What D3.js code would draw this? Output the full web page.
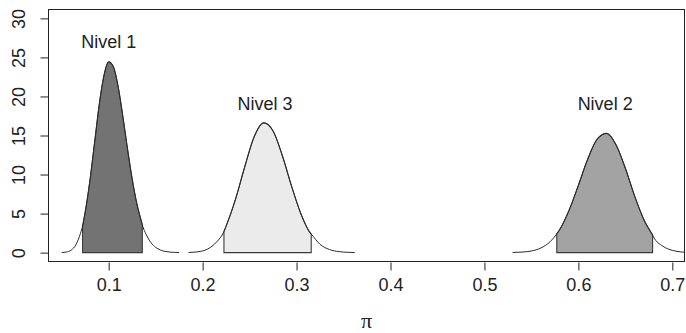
<!DOCTYPE html>
<html>
<head>
<meta charset="utf-8">
<script src="https://cdn.jsdelivr.net/npm/d3@7"></script>
<style>
  body { margin: 0; background: #fff; }
  text { font-family: "Liberation Sans", Arial, sans-serif; fill: #222; }
</style>
</head>
<body>
<div class="density-container"></div>
<script>
// Values.
const xTicks = [0.1, 0.2, 0.3, 0.4, 0.5, 0.6, 0.7];
const yTicks = [0, 5, 10, 15, 20, 25, 30];

// Nivel 1 density
const nivel1X = [0.05, 0.055, 0.06, 0.065, 0.07, 0.0722, 0.075, 0.08, 0.085, 0.09, 0.095, 0.1, 0.105,
  0.11, 0.115, 0.12, 0.125, 0.13, 0.135, 0.1358, 0.14, 0.145, 0.15, 0.155, 0.16, 0.165, 0.17, 0.175];
const nivel1Y = [0.01, 0.08, 0.31, 0.99, 2.48, 3.4, 5.19, 9.21, 14.09, 18.99, 22.7, 24.43, 23.8,
  21.3, 17.5, 13.3, 9.43, 6.25, 3.91, 3.55, 2.31, 1.28, 0.68, 0.34, 0.16, 0.07, 0.03, 0.01];
const nivel1Int = [0.0722, 0.1358];

// Nivel 3 density
const nivel3X = [0.185, 0.195, 0.205, 0.215, 0.2227, 0.225, 0.235, 0.245, 0.255, 0.265, 0.275,
  0.285, 0.295, 0.305, 0.315, 0.3156, 0.325, 0.335, 0.345, 0.355, 0.362];
const nivel3Y = [0.02, 0.11, 0.44, 1.38, 2.7, 3.39, 6.83, 11.06, 14.88, 16.62, 15.57,
  12.37, 8.38, 4.86, 2.46, 2.38, 1.06, 0.4, 0.13, 0.04, 0.01];
const nivel3Int = [0.2227, 0.3156];

// Nivel 2 density
const nivel2X = [0.53, 0.54, 0.55, 0.56, 0.57, 0.577, 0.58, 0.59, 0.6, 0.61, 0.62, 0.63, 0.64,
  0.65, 0.66, 0.67, 0.679, 0.68, 0.69, 0.7, 0.71, 0.72];
const nivel2Y = [0.02, 0.07, 0.21, 0.59, 1.41, 2.4, 2.93, 5.4, 8.62, 11.99, 14.53, 15.27, 13.82,
  10.81, 7.21, 4.16, 2.25, 2.01, 0.82, 0.29, 0.08, 0.02];
const nivel2Int = [0.577, 0.679];

const series = [
  { name: "Nivel 1", xs: nivel1X, ys: nivel1Y, ci: nivel1Int, fill: "#737373", lx: 0.1, ly: 26.2 },
  { name: "Nivel 3", xs: nivel3X, ys: nivel3Y, ci: nivel3Int, fill: "#ebebeb", lx: 0.2665, ly: 18.3 },
  { name: "Nivel 2", xs: nivel2X, ys: nivel2Y, ci: nivel2Int, fill: "#a3a3a3", lx: 0.6285, ly: 18.3 },
];

const W = 686, H = 333;
const margin = { top: 9, right: 1, bottom: 71, left: 48 };

const svg = d3
  .select(".density-container")
  .append("svg")
  .attr("width", W)
  .attr("height", H);

// Scales.
const xScale = d3.scaleLinear().domain([0.0354, 0.7135]).range([margin.left, W - margin.right]);
const yScale = d3.scaleLinear().domain([-1.2, 31.2]).range([H - margin.bottom, margin.top]);

svg.append("defs")
  .append("clipPath")
  .attr("id", "plotclip")
  .append("rect")
  .attr("x", margin.left)
  .attr("y", margin.top)
  .attr("width", W - margin.left - margin.right)
  .attr("height", H - margin.top - margin.bottom);

const plot = svg.append("g").attr("clip-path", "url(#plotclip)");

const line = d3
  .line()
  .x((d) => xScale(d[0]))
  .y((d) => yScale(d[1]))
  .curve(d3.curveMonotoneX);

const area = d3
  .area()
  .x((d) => xScale(d[0]))
  .y0(yScale(0))
  .y1((d) => yScale(d[1]))
  .curve(d3.curveMonotoneX);

series.forEach((s) => {
  const pts = s.xs.map((x, i) => [x, s.ys[i]]);
  const shade = pts.filter((d) => d[0] >= s.ci[0] && d[0] <= s.ci[1]);

  // Draw interval polygon.
  plot
    .append("path")
    .datum(shade)
    .attr("d", (d) => area(d) + "Z")
    .attr("fill", s.fill)
    .attr("stroke", "#3a3a3a")
    .attr("stroke-width", 1.1);

  // Draw density curve.
  plot
    .append("path")
    .datum(pts)
    .attr("d", line)
    .attr("fill", "none")
    .attr("stroke", "#2a2a2a")
    .attr("stroke-width", 1);

  svg
    .append("text")
    .attr("x", xScale(s.lx))
    .attr("y", yScale(s.ly))
    .attr("text-anchor", "middle")
    .attr("font-size", 18)
    .text(s.name);
});

// Box.
svg
  .append("rect")
  .attr("x", margin.left + 0.5)
  .attr("y", margin.top + 0.5)
  .attr("width", W - margin.left - margin.right - 1)
  .attr("height", H - margin.top - margin.bottom - 1)
  .attr("fill", "none")
  .attr("stroke", "#222")
  .attr("stroke-width", 1);

// Axes.
const xAxis = d3.axisBottom(xScale).tickValues(xTicks).tickSize(8).tickPadding(8).tickFormat(d3.format(".1f"));
const xAxisDraw = svg
  .append("g")
  .attr("class", "x axis")
  .attr("transform", `translate(0, ${H - margin.bottom + 0.5})`)
  .call(xAxis);
xAxisDraw.select(".domain").remove();
xAxisDraw.selectAll("line").attr("stroke", "#222");
xAxisDraw.selectAll("text").attr("font-size", 18).attr("font-family", "Liberation Sans, Arial, sans-serif").attr("fill", "#222");

const yAxis = d3.axisLeft(yScale).tickValues(yTicks).tickSize(8).tickPadding(0);
const yAxisDraw = svg
  .append("g")
  .attr("class", "y axis")
  .attr("transform", `translate(${margin.left + 0.5}, 0)`)
  .call(yAxis);
yAxisDraw.select(".domain").remove();
yAxisDraw.selectAll("line").attr("stroke", "#222");
yAxisDraw
  .selectAll("text")
  .attr("font-size", 18)
  .attr("font-family", "Liberation Sans, Arial, sans-serif")
  .attr("fill", "#222")
  .attr("text-anchor", "middle")
  .attr("x", null)
  .attr("dy", null)
  .attr("dominant-baseline", "central")
  .attr("transform", (d) => `translate(-30, 0) rotate(-90)`);

// Axis label.
svg
  .append("text")
  .attr("x", (margin.left + W - margin.right) / 2)
  .attr("y", 328)
  .attr("text-anchor", "middle")
  .attr("font-size", 22)
  .style("font-family", "Liberation Serif, serif")
  .text("π");
</script>
</body>
</html>
